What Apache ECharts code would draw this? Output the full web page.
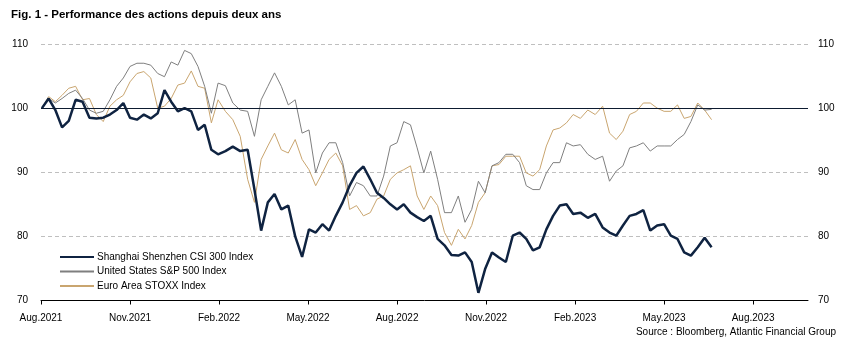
<!DOCTYPE html>
<html>
<head>
<meta charset="utf-8">
<script src="https://cdn.jsdelivr.net/npm/echarts@6/dist/echarts.min.js"></script>
<style>
html,body{margin:0;padding:0;background:#fff;}
#chart{width:844px;height:352px;}
</style>
</head>
<body>
<div id="chart"></div>
<script>
// valeurs hebdomadaires (base 100 en aout 2021)
var startDate = '2021-08-02';
var tickLabels = ['Aug.2021','Nov.2021','Feb.2022','May.2022','Aug.2022','Nov.2022','Feb.2023','May.2023','Aug.2023'];
var seriesNames = ['Shanghai Shenzhen CSI 300 Index','United States S&P 500 Index','Euro Area STOXX Index'];

var csi300 = [100,101.5,99.7,97,98,101.3,101,98.5,98.4,98.5,
    99,99.7,100.8,98.5,98.2,99,98.4,99.2,102.8,101,
    99.5,100,99.5,96.6,97.4,93.5,92.8,93.3,94,93.3,
    93.5,87.3,80.9,85.3,86.6,84.2,84.8,80,76.8,81.1,
    80.6,81.9,80.9,83.2,85.3,87.9,89.9,90.9,88.9,86.8,
    86,85,84.2,85,83.7,83,82.4,83.2,79.6,78.6,
    77.1,77,77.5,76,71.2,74.9,77.5,76.7,76,80.1,
    80.6,79.6,77.8,78.3,81.1,83.2,84.8,85,83.5,83.7,
    82.9,83.5,81.4,80.6,80.1,81.7,83.2,83.5,84.1,80.9,
    81.7,81.9,80.1,79.6,77.5,77,78.3,79.8,78.3];

var sp500 = [100,101.5,100.8,101.5,102.3,102.8,101.5,99.7,99.2,99.5,
    101.3,103.4,104.7,106.5,107,107,106.7,105.4,104.9,107.2,
    106.7,109,108.5,106.5,103.4,99.2,103.9,103.5,100.8,99.7,
    99.5,95.6,101.3,103.4,105.5,103.4,100.5,101.3,96.1,96.6,
    89.9,93,94.6,94.6,91.5,86.3,88.4,87.9,86.3,86.3,
    89.4,94.1,94.6,97.9,97.4,93.8,89.9,93.3,88.9,83.7,
    83.7,86.3,82.2,84.2,88.6,86.8,91,91.5,92.8,92.8,
    91.5,87.9,87.3,87.3,89.9,91.5,91.5,94.6,94.1,94.3,
    92.8,92,92.5,88.6,90.2,91,93.8,94.1,94.6,93.3,
    94.1,94.1,94.1,95.1,95.9,97.9,100.5,99.7,99.8];

var stoxx = [100,101.8,101,102,103.1,103.4,101.3,101.5,99,97.9,
    100.3,101.3,102,104.1,105.4,105.7,104.7,100,100.3,101.5,
    103.6,103.9,105.8,103.4,103.1,97.7,101.3,99.5,98.2,95.6,
    88.9,85.3,92,94.1,96.1,93.5,93,95.1,92,90.4,
    87.9,89.9,92,93,91,84.2,84.8,83.2,83.7,85.8,
    86.3,88.9,89.9,90.4,91,86.3,84.2,86.3,84.8,80.6,
    78.6,81.1,79.6,81.7,85.3,86.8,91,91.2,92.5,92.5,
    92.5,89.9,89.4,90.4,94.1,96.6,96.9,97.7,99,98.4,
    99.7,99,100.3,96.1,95.1,96.4,99,99.5,100.8,100.8,
    100,99.5,99.5,100.5,98.4,98.7,100.8,99.7,98.2];

// date -> indice de mois (0 = aout 2021) pour l'axe des x
function monthIndex(d) {
    var y = d.getFullYear(), m = d.getMonth();
    var days = new Date(y, m + 1, 0).getDate();
    return (y - 2021) * 12 + (m - 7) + (d.getDate() - 1) / days;
}
var weekDates = [];
var d0 = new Date(startDate + 'T00:00:00');
for (var i = 0; i < csi300.length; i++) {
    weekDates.push(new Date(d0.getTime() + i * 7 * 86400000));
}
function pairs(values) {
    var out = [];
    for (var i = 0; i < values.length; i++) {
        out.push([monthIndex(weekDates[i]), values[i]]);
    }
    return out;
}

var font = 'Liberation Sans';
var chart = echarts.init(document.getElementById('chart'));
var option = {
    animation: false,
    textStyle: {fontFamily: font},
    title: {
        text: 'Fig. 1 - Performance des actions depuis deux ans',
        left: 6, top: 4,
        textStyle: {fontSize: 11.5, fontWeight: 'bold', color: '#000', fontFamily: font}
    },
    graphic: [{
        type: 'text', right: 8, top: 327,
        style: {text: 'Source : Bloomberg, Atlantic Financial Group', fontSize: 10, fill: '#000', fontFamily: font}
    }],
    legend: {
        orient: 'vertical', left: 54, top: 247,
        itemWidth: 34, itemHeight: 10, itemGap: 4.5,
        itemStyle: {opacity: 0},
        textStyle: {fontSize: 10, color: '#000', fontFamily: font, padding: [0, 0, 0, -2]},
        data: seriesNames
    },
    grid: {left: 41, right: 36, top: 44, bottom: 51.5},
    xAxis: {
        type: 'value', min: 0, max: 25.85, interval: 3,
        axisLine: {show: true, lineStyle: {color: '#000', width: 1}},
        axisTick: {show: true, length: 4, inside: false, lineStyle: {color: '#000'}},
        axisLabel: {
            fontSize: 10, color: '#000', margin: 13, fontFamily: font,
            showMaxLabel: false,
            formatter: function (v) { return tickLabels[Math.round(v / 3)] || ''; }
        },
        splitLine: {show: false}
    },
    yAxis: [{
        type: 'value', min: 70, max: 110, interval: 10, position: 'left',
        axisLine: {show: false}, axisTick: {show: false},
        axisLabel: {fontSize: 10, color: '#000', margin: 13, fontFamily: font},
        splitLine: {lineStyle: {color: '#bfbfbf', type: [4, 3], width: 1}}
    }, {
        type: 'value', min: 70, max: 110, interval: 10, position: 'right',
        axisLine: {show: false}, axisTick: {show: false},
        axisLabel: {fontSize: 10, color: '#000', margin: 10, fontFamily: font},
        splitLine: {show: false}
    }],
    series: [{
        name: seriesNames[2], type: 'line', symbol: 'none', z: 2,
        lineStyle: {color: '#c9a56f', width: 1},
        itemStyle: {color: '#c9a56f'},
        data: pairs(stoxx)
    }, {
        name: seriesNames[1], type: 'line', symbol: 'none', z: 3,
        lineStyle: {color: '#7f7f7f', width: 1},
        itemStyle: {color: '#7f7f7f'},
        data: pairs(sp500),
        markLine: {
            silent: true, symbol: 'none', label: {show: false},
            lineStyle: {color: '#0d1b30', type: 'solid', width: 1.2},
            data: [{yAxis: 100}]
        }
    }, {
        name: seriesNames[0], type: 'line', symbol: 'none', z: 4,
        lineStyle: {color: '#0f2341', width: 2.5},
        itemStyle: {color: '#0f2341'},
        data: pairs(csi300)
    }]
};
chart.setOption(option);
</script>
</body>
</html>
